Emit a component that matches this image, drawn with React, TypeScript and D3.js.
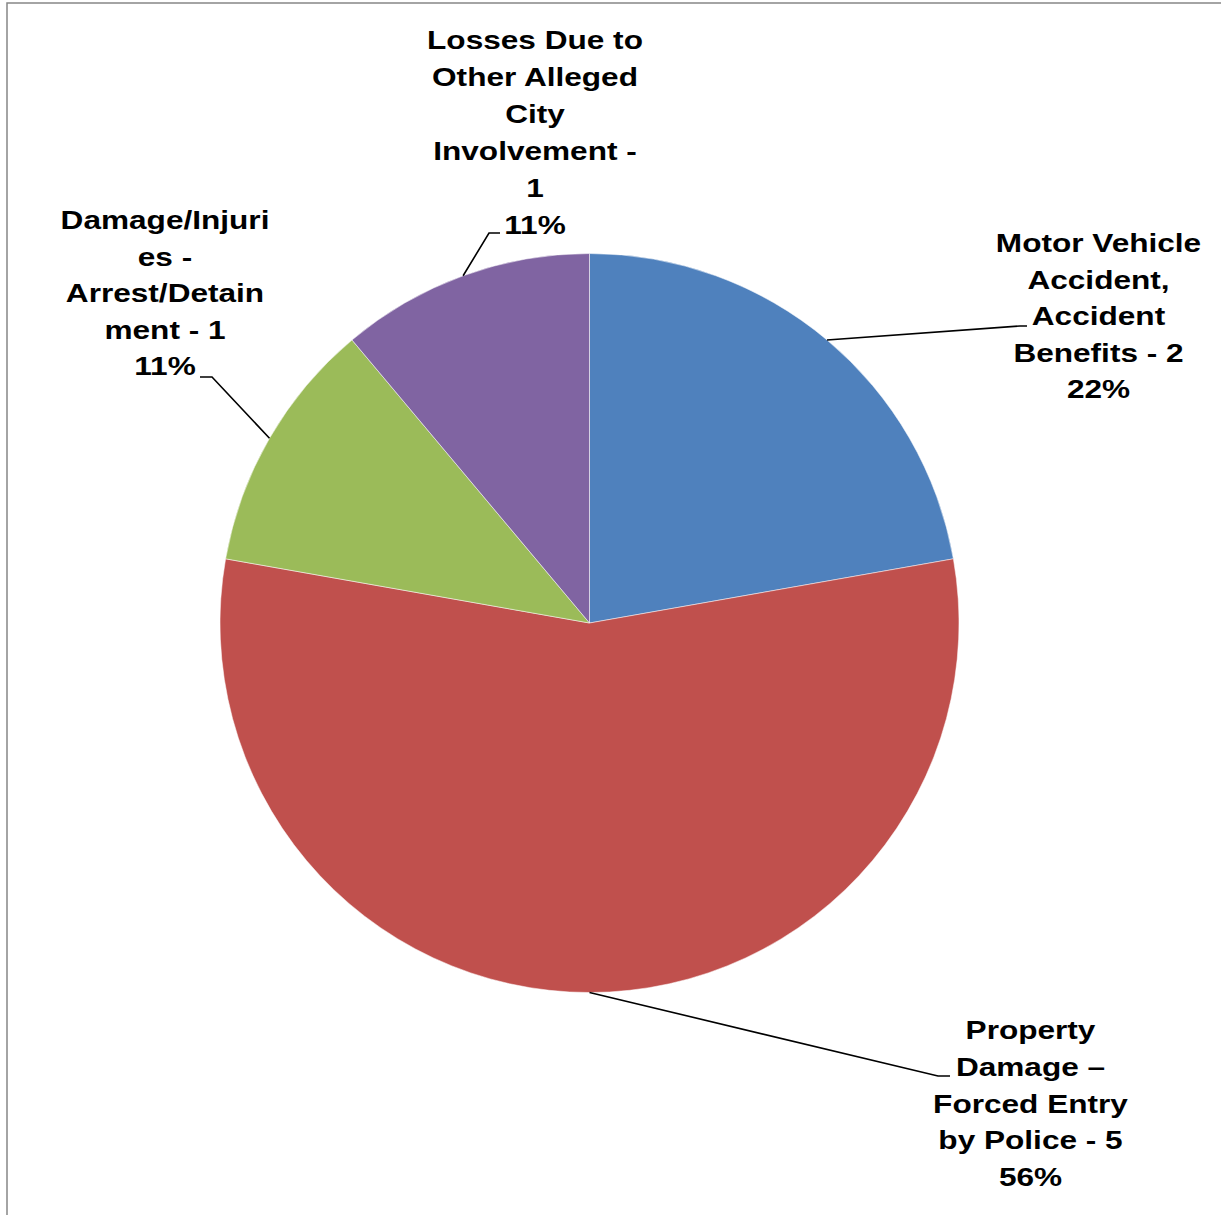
import React from "react";
import { pie, arc, PieArcDatum } from "d3";

// slice data, clockwise from 12 o'clock
const categories = [
  "Motor Vehicle Accident, Accident Benefits",
  "Property Damage – Forced Entry by Police",
  "Damage/Injuries - Arrest/Detainment",
  "Losses Due to Other Alleged City Involvement",
];
const counts = [2, 5, 1, 1];
const percentLabels = ["22%", "56%", "11%", "11%"];

// label text as wrapped in the original
const labelLines = [
  ["Motor Vehicle", "Accident,", "Accident", "Benefits - 2", "22%"],
  ["Property", "Damage –", "Forced Entry", "by Police - 5", "56%"],
  ["Damage/Injuri", "es -", "Arrest/Detain", "ment - 1", "11%"],
  ["Losses Due to", "Other Alleged", "City", "Involvement -", "1", "11%"],
];

const colors = ["#4F81BD", "#C0504D", "#9BBB59", "#8064A2"];

// label placement (center x, first baseline, leader elbow and end)
const labelLayout = [
  { x: 1098.5, y: 252, step: 36.6, elbow: [1020, 326], end: [1027, 326] },
  { x: 1030.5, y: 1039, step: 36.8, elbow: [938, 1076], end: [950, 1076] },
  { x: 165, y: 229, step: 36.6, elbow: [212, 377], end: [200, 377] },
  { x: 535, y: 49, step: 37, elbow: [489, 233], end: [500, 233] },
];

type Datum = { name: string; value: number; i: number };

export default function App() {
  const width = 1221;
  const height = 1215;
  const cx = 589.5;
  const cy = 623;
  const radius = 369.5;
  const textScale = 1.215;

  const data: Datum[] = categories.map((name, i) => ({ name, value: counts[i], i }));

  const arcs = pie<Datum>()
    .value((d) => d.value)
    .sort(null)(data);

  const sliceArc = arc<PieArcDatum<Datum>>().innerRadius(0).outerRadius(radius);
  const edgeArc = arc<PieArcDatum<Datum>>().innerRadius(radius).outerRadius(radius);

  return (
    <svg
      width={width}
      height={height}
      style={{ position: "absolute", left: 0, top: 0, background: "#fff" }}
      fontFamily="'Liberation Sans', Arial, sans-serif"
    >
      <rect x={7} y={3} width={width + 20} height={height + 20} fill="#fff" stroke="#878787" strokeWidth={1.5} />

      <g transform={`translate(${cx}, ${cy})`}>
        {arcs.map((a) => (
          <path
            key={a.data.name}
            d={sliceArc(a) || ""}
            fill={colors[a.data.i]}
            stroke="#ffffff"
            strokeOpacity={0.5}
            strokeWidth={1}
          />
        ))}
      </g>

      {/* leader lines */}
      {arcs.map((a) => {
        const [px, py] = edgeArc.centroid(a);
        const lay = labelLayout[a.data.i];
        return (
          <polyline
            key={"l" + a.data.i}
            points={`${cx + px},${cy + py} ${lay.elbow[0]},${lay.elbow[1]} ${lay.end[0]},${lay.end[1]}`}
            fill="none"
            stroke="#000"
            strokeWidth={1.6}
          />
        );
      })}

      {/* labels */}
      {labelLines.map((lines, i) => {
        const lay = labelLayout[i];
        return (
          <g key={"t" + i} transform={`translate(${lay.x}, ${lay.y}) scale(${textScale}, 1)`}>
            <text textAnchor="middle" fontSize={26} fontWeight="bold" fill="#000">
              {lines.map((line, j) => (
                <tspan key={j} x={0} y={j * lay.step}>
                  {line}
                </tspan>
              ))}
            </text>
          </g>
        );
      })}
      <title>{percentLabels.join(", ")}</title>
    </svg>
  );
}
